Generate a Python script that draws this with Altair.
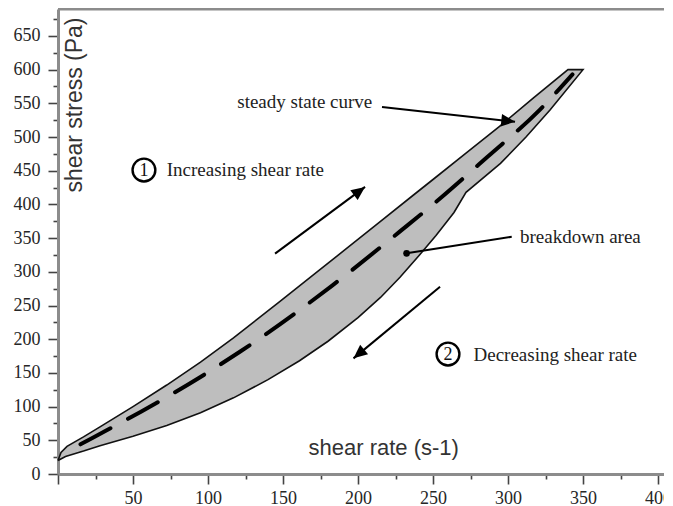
import math
import altair as alt
import pandas as pd

# ---------------- data ----------------
# upward (increasing shear rate) branch
upper_x = [0, 2, 6, 17, 28, 50, 72.5, 95, 117, 148, 170, 192, 215, 237, 250, 272, 295, 317, 340]
upper_y = [20, 32, 41, 55, 70, 100, 132, 166, 202, 256, 295, 334, 375, 414, 437, 476, 517, 558, 600]
# downward (decreasing shear rate) branch, listed left to right
lower_x = [0, 5, 17, 28, 50, 72.5, 95, 117, 140, 161, 180, 200, 215, 228, 241, 252, 264, 272, 295, 312, 328, 350]
lower_y = [20, 26, 34, 42, 56, 72, 91, 113, 140, 168, 197, 232, 262, 292, 325, 354, 388, 418, 461, 500, 540, 600]
# steady state curve (dashed)
steady_x = [15, 30, 55, 95, 121, 137, 183, 228, 250, 286, 321, 343]
steady_y = [44, 62, 92, 144, 181, 205, 280, 360, 400, 470, 540, 593]

# annotation arrows: tail -> tip
arrow_names = ["increasing", "decreasing", "steady"]
arrow_x = [144.7, 254.7, 216]
arrow_y = [327, 278, 544.5]
arrow_x2 = [204.7, 197, 304.7]
arrow_y2 = [426, 171.6, 522.7]

# breakdown pointer: text end -> dot
pointer_x = [302.5]
pointer_y = [352]
pointer_x2 = [232.4]
pointer_y2 = [327.5]

# circled step numbers
circle_x = [57.3, 260]
circle_y = [451, 178]
circle_labels = ["1", "2"]

# annotation texts (left aligned)
note_x = [72.5, 119.5, 308, 277]
note_y = [451, 552, 352, 176.5]
note_text = ["Increasing shear rate", "steady state curve", "breakdown area", "Decreasing shear rate"]

# ---------------- layout ----------------
W, H = 606, 465
XMAX, YMAX = 404, 690
PX_X = W / XMAX
PX_Y = H / YMAX
SERIF = "Liberation Serif"
SANS = "Liberation Sans"

xs = alt.Scale(domain=[0, XMAX], nice=False, zero=False)
ys = alt.Scale(domain=[0, YMAX], nice=False, zero=False)

xaxis = alt.Axis(
    title=None,
    values=list(range(0, 401, 25)),
    labelExpr="datum.value % 50 === 0 && datum.value > 0 ? datum.label : ''",
    tickSize={"condition": {"test": "datum.value % 50 === 0", "value": 10}, "value": 5},
    grid=False, domainColor="#8c8c8c", domainWidth=3,
    tickColor="#444444", tickWidth=1.6,
    labelFont=SERIF, labelFontSize=18, labelColor="#262626",
    labelPadding=5, labelFlush=False, labelOverlap=False,
)
yaxis = alt.Axis(
    title=None,
    values=list(range(0, 676, 25)),
    labelExpr="datum.value % 50 === 0 ? datum.label : ''",
    tickSize={"condition": {"test": "datum.value % 50 === 0", "value": 10}, "value": 5},
    grid=False, domainColor="#8c8c8c", domainWidth=3,
    tickColor="#444444", tickWidth=1.6,
    labelFont=SERIF, labelFontSize=18, labelColor="#262626",
    labelPadding=8, labelFlush=False, labelOverlap=False,
)

X = alt.X("x:Q", scale=xs, axis=xaxis)
Y = alt.Y("y:Q", scale=ys, axis=yaxis)

# ---------------- tables ----------------
poly_x = upper_x + lower_x[::-1] + [upper_x[0]]
poly_y = upper_y + lower_y[::-1] + [upper_y[0]]
poly = pd.DataFrame({"x": poly_x, "y": poly_y, "o": list(range(len(poly_x)))})
steady = pd.DataFrame({"x": steady_x, "y": steady_y, "o": list(range(len(steady_x)))})

angles = []
for x1, y1, x2, y2 in zip(arrow_x, arrow_y, arrow_x2, arrow_y2):
    dxp = (x2 - x1) * PX_X
    dyp = -(y2 - y1) * PX_Y
    angles.append((math.degrees(math.atan2(dxp, -dyp)) + 360) % 360)
arrows = pd.DataFrame({"name": arrow_names, "x": arrow_x, "y": arrow_y,
                       "x2": arrow_x2, "y2": arrow_y2, "angle": angles})
heads = pd.DataFrame({"x": arrow_x2, "y": arrow_y2, "angle": angles})
pointer = pd.DataFrame({"x": pointer_x, "y": pointer_y, "x2": pointer_x2, "y2": pointer_y2})
dot = pd.DataFrame({"x": pointer_x2, "y": pointer_y2})
circles = pd.DataFrame({"x": circle_x, "y": circle_y, "t": circle_labels})
notes = pd.DataFrame({"x": note_x, "y": note_y, "t": note_text})
titles = pd.DataFrame({"x": [167], "y": [38.6], "t": ["shear rate (s-1)"]})
ytitle = pd.DataFrame({"x": [11.3], "y": [547.5], "t": ["shear stress (Pa)"]})

# ---------------- layers ----------------
area = alt.Chart(poly).mark_line(
    fill="#bebebe", stroke="#111111", strokeWidth=1.6, interpolate="linear"
).encode(x=X, y=Y, order="o:Q")

dashed = alt.Chart(steady).mark_line(
    color="#000000", strokeWidth=4, strokeDash=[34, 20], strokeCap="round", interpolate="monotone"
).encode(x=X, y=Y, order="o:Q")

arrow_lines = alt.Chart(arrows).mark_rule(color="#000000", strokeWidth=2).encode(
    x=X, y=Y, x2="x2:Q", y2="y2:Q")

arrow_heads = alt.Chart(heads).mark_point(
    shape="M0,0L0.45,1L-0.45,1Z", filled=True, color="#000000", opacity=1, size=760
).encode(x=X, y=Y, angle=alt.Angle("angle:Q", scale=None))

pointer_line = alt.Chart(pointer).mark_rule(color="#000000", strokeWidth=2).encode(
    x=X, y=Y, x2="x2:Q", y2="y2:Q")
pointer_dot = alt.Chart(dot).mark_point(
    shape="circle", filled=True, color="#000000", opacity=1, size=45
).encode(x=X, y=Y)

circle_marks = alt.Chart(circles).mark_point(
    shape="circle", filled=False, color="#000000", strokeWidth=2.4, opacity=1, size=520
).encode(x=X, y=Y)
circle_text = alt.Chart(circles).mark_text(
    font=SERIF, fontSize=18, color="#111111", align="center", baseline="middle", dy=1
).encode(x=X, y=Y, text="t:N")

note_marks = alt.Chart(notes).mark_text(
    font=SERIF, fontSize=19, color="#222222", align="left", baseline="middle"
).encode(x=X, y=Y, text="t:N")

xtitle_mark = alt.Chart(titles).mark_text(
    font=SANS, fontSize=22, color="#333333", align="left", baseline="middle"
).encode(x=X, y=Y, text="t:N")
ytitle_mark = alt.Chart(ytitle).mark_text(
    font=SANS, fontSize=23, color="#333333", align="center", baseline="middle", angle=270
).encode(x=X, y=Y, text="t:N")

top_border = alt.Chart(pd.DataFrame({"x": [0]})).mark_rule(
    color="#8c8c8c", strokeWidth=3
).encode(x=alt.value(0), x2=alt.value(W), y=alt.value(0))

chart = alt.layer(
    area, dashed, arrow_lines, arrow_heads, pointer_line, pointer_dot,
    circle_marks, circle_text, note_marks, xtitle_mark, ytitle_mark, top_border
).properties(
    width=W, height=H,
    padding={"left": 50, "top": 1, "right": 0, "bottom": 32},
    autosize=alt.AutoSizeParams(type="none"),
    background="#ffffff",
).configure_view(stroke=None)

chart.save("out.html", embed_options={"renderer": "svg", "actions": False})
